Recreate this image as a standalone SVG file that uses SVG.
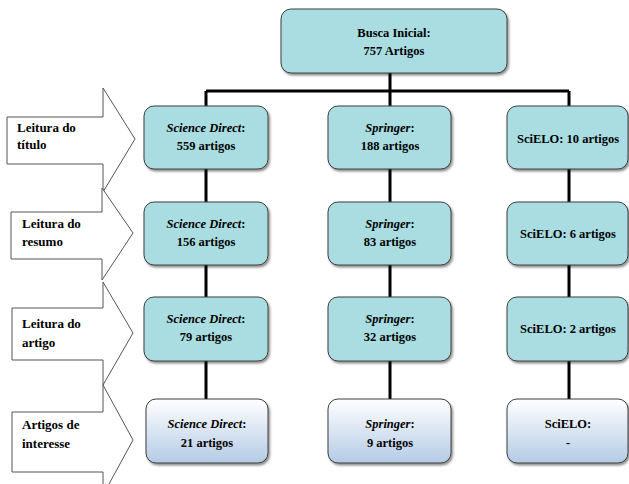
<svg xmlns="http://www.w3.org/2000/svg" width="629" height="484" viewBox="0 0 629 484">
<defs>
<linearGradient id="gBottom" x1="0" y1="0" x2="0" y2="1">
<stop offset="0" stop-color="#FFFFFF"/>
<stop offset="1" stop-color="#B4CBE6"/>
</linearGradient>
<filter id="sh" x="-10%" y="-10%" width="125%" height="130%">
<feDropShadow dx="1.5" dy="2" stdDeviation="1.2" flood-color="#000" flood-opacity="0.45"/>
</filter>
<style>
.box{fill:#A9DDE1;stroke:#3F3F3F;stroke-width:1;filter:url(#sh)}
.boxb{fill:url(#gBottom);stroke:#3F3F3F;stroke-width:1;filter:url(#sh)}
.arrow{fill:#FFFFFF;stroke:#555555;stroke-width:1}
.conn{stroke:#000;stroke-width:3;fill:none}
text{font-weight:bold;font-size:12.5px;fill:#000}
.c{text-anchor:middle}
.lbl{font-size:13px}
.it{font-style:italic}
</style>
</defs>
<g font-family="Liberation Serif, serif">
<g id="connectors">
<path class="conn" d="M390,73 V106 M206,91 H569 M206,91 V106 M569,91 V106"/>
<path class="conn" d="M206,169 V202 M390,169 V202 M569,169 V202"/>
<path class="conn" d="M206,265 V297 M390,265 V297 M569,265 V297"/>
<path class="conn" d="M206,361 V399 M390,361 V399 M569,361 V399"/>
</g>

<g id="arrow-titulo">
<polygon class="arrow" points="7,117 103,117 103,88 135,139 103,192 103,164 7,164"/>
<text class="lbl" x="17" y="132">Leitura do</text>
<text class="lbl" x="17" y="149">título</text>
</g>
<g id="arrow-resumo">
<polygon class="arrow" points="11,212 102,212 102,188 133,233 102,280 102,259 11,259"/>
<text class="lbl" x="22" y="228">Leitura do</text>
<text class="lbl" x="22" y="246">resumo</text>
</g>
<g id="arrow-artigo">
<polygon class="arrow" points="12,308 103,308 103,282 133,333 103,385 103,360 12,360"/>
<text class="lbl" x="22" y="328">Leitura do</text>
<text class="lbl" x="22" y="347">artigo</text>
</g>
<g id="arrow-interesse">
<polygon class="arrow" points="12,412 103,412 103,385 133,440 103,495 103,472 12,472"/>
<text class="lbl" x="22" y="429">Artigos de</text>
<text class="lbl" x="22" y="448">interesse</text>
</g>

<g id="busca">
<rect class="box" x="281" y="9" width="226" height="64" rx="10"/>
<text class="c" x="394" y="37">Busca Inicial:</text>
<text class="c" x="394" y="55">757 Artigos</text>
</g>

<g id="sd1">
<rect class="box" x="144" y="106" width="124" height="63" rx="10"/>
<text class="c" x="206" y="132"><tspan class="it">Science Direct</tspan>:</text>
<text class="c" x="206" y="150">559 artigos</text>
</g>
<g id="sp1">
<rect class="box" x="328" y="106" width="123" height="63" rx="10"/>
<text class="c" x="390" y="132"><tspan class="it">Springer</tspan>:</text>
<text class="c" x="390" y="150">188 artigos</text>
</g>
<g id="sc1">
<rect class="box" x="507" y="106" width="121" height="63" rx="10"/>
<text class="c" x="568" y="143">SciELO: 10 artigos</text>
</g>

<g id="sd2">
<rect class="box" x="144" y="202" width="124" height="63" rx="10"/>
<text class="c" x="206" y="228"><tspan class="it">Science Direct</tspan>:</text>
<text class="c" x="206" y="246">156 artigos</text>
</g>
<g id="sp2">
<rect class="box" x="328" y="202" width="123" height="63" rx="10"/>
<text class="c" x="390" y="228"><tspan class="it">Springer</tspan>:</text>
<text class="c" x="390" y="246">83 artigos</text>
</g>
<g id="sc2">
<rect class="box" x="507" y="202" width="121" height="63" rx="10"/>
<text class="c" x="568" y="238">SciELO: 6 artigos</text>
</g>

<g id="sd3">
<rect class="box" x="144" y="297" width="124" height="64" rx="10"/>
<text class="c" x="206" y="323"><tspan class="it">Science Direct</tspan>:</text>
<text class="c" x="206" y="341">79 artigos</text>
</g>
<g id="sp3">
<rect class="box" x="328" y="297" width="123" height="64" rx="10"/>
<text class="c" x="390" y="323"><tspan class="it">Springer</tspan>:</text>
<text class="c" x="390" y="341">32 artigos</text>
</g>
<g id="sc3">
<rect class="box" x="507" y="297" width="121" height="64" rx="10"/>
<text class="c" x="568" y="333">SciELO: 2 artigos</text>
</g>

<g id="sd4">
<rect class="boxb" x="146" y="399" width="122" height="64" rx="10"/>
<text class="c" x="207" y="428"><tspan class="it">Science Direct</tspan>:</text>
<text class="c" x="207" y="447">21 artigos</text>
</g>
<g id="sp4">
<rect class="boxb" x="328" y="399" width="123" height="64" rx="10"/>
<text class="c" x="390" y="428"><tspan class="it">Springer</tspan>:</text>
<text class="c" x="390" y="447">9 artigos</text>
</g>
<g id="sc4">
<rect class="boxb" x="507" y="399" width="121" height="64" rx="10"/>
<text class="c" x="568" y="428">SciELO:</text>
<text class="c" x="568" y="447">-</text>
</g>
</g>
</svg>
